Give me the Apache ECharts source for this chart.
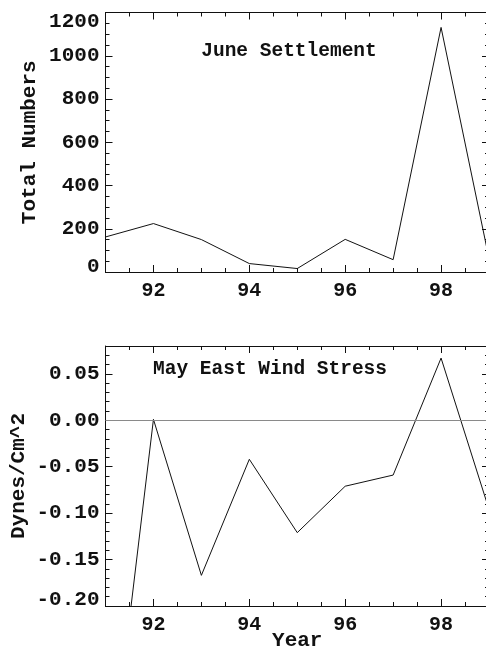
<!DOCTYPE html>
<html>
<head>
<meta charset="utf-8">
<script src="https://cdn.jsdelivr.net/npm/echarts@6/dist/echarts.min.js"></script>
<style>html,body{margin:0;padding:0;background:#fff;}#c{width:486px;height:656px;}</style>
</head>
<body>
<div id="c"></div>
<script>
// ---- data ----
const years = [91, 92, 93, 94, 95, 96, 97, 98, 99];
const settlement = [162, 224, 150, 39, 16, 151, 57, 1131, 62];
const windStress = [-0.43, 0.001, -0.167, -0.042, -0.121, -0.071, -0.059, 0.067, -0.096];
const yearTicks = [92, 94, 96, 98];
const topTitle = 'June Settlement';
const bottomTitle = 'May East Wind Stress';
const topYName = 'Total Numbers';
const bottomYName = 'Dynes/Cm^2';
const xName = 'Year';

const FONT = '"Liberation Mono", "DejaVu Sans Mono", monospace';
const INK = '#111';

const chart = echarts.init(document.getElementById('c'), null, {renderer: 'canvas'});

function pairs(vals) { return years.map((y, i) => [y, vals[i]]); }

const grids = [
  {left: 105.5, right: -3, top: 12.5, height: 259.5, outerBoundsMode: 'none', containLabel: false},
  {left: 105.5, right: -3, top: 346, height: 260, outerBoundsMode: 'none', containLabel: false}
];

function xAxesFor(g, withLabels) {
  const base = {
    type: 'value', gridIndex: g, min: 91, max: 99,
    splitLine: {show: false},
    nameMoveOverlap: false,
    axisLine: {show: true, onZero: false, lineStyle: {color: INK, width: 1}}
  };
  const list = [];
  list.push(Object.assign({}, base, {
    position: 'bottom', interval: 0.5,
    axisTick: {show: true, inside: true, length: 4, lineStyle: {color: INK}},
    axisLabel: {show: false},
    name: (withLabels ? xName : ''), nameLocation: 'middle', nameGap: 24,
    nameTextStyle: {fontFamily: FONT, fontWeight: 'bold', fontSize: 21, color: INK}
  }));
  list.push(Object.assign({}, base, {
    position: 'bottom', offset: 0,
    axisTick: {show: true, inside: true, length: 7, customValues: yearTicks, lineStyle: {color: INK}},
    axisLabel: {show: true, customValues: yearTicks, margin: 9, fontFamily: FONT, fontWeight: 'bold', fontSize: 20, color: INK}
  }));
  list.push(Object.assign({}, base, {
    position: 'top', interval: 0.5,
    axisTick: {show: true, inside: true, length: 4, lineStyle: {color: INK}},
    axisLabel: {show: false}
  }));
  list.push(Object.assign({}, base, {
    position: 'top', offset: 0,
    axisTick: {show: true, inside: true, length: 7, customValues: yearTicks, lineStyle: {color: INK}},
    axisLabel: {show: false}
  }));
  return list;
}

const richShift = {
  dn: {padding: [18, 0, 0, 0], fontFamily: FONT, fontWeight: 'bold', fontSize: 21, color: INK},
  up: {padding: [0, 0, 10, 0], fontFamily: FONT, fontWeight: 'bold', fontSize: 21, color: INK},
  up2: {padding: [0, 0, 13, 0], fontFamily: FONT, fontWeight: 'bold', fontSize: 21, color: INK}
};

function yAxesFor(g, min, max, interval, split, fmt, name, nameGap) {
  const base = {
    type: 'value', gridIndex: g, min: min, max: max, interval: interval,
    splitLine: {show: false},
    nameMoveOverlap: false,
    minorTick: {show: true, splitNumber: split, length: 4, inside: true, lineStyle: {color: INK}},
    axisTick: {show: true, inside: true, length: 7, lineStyle: {color: INK}},
    axisLine: {show: true, onZero: false, lineStyle: {color: INK, width: 1}}
  };
  return [
    Object.assign({}, base, {
      position: 'left',
      axisLabel: {show: true, margin: 6, showMaxLabel: (max % interval === 0), fontFamily: FONT, fontWeight: 'bold', fontSize: 21, color: INK, formatter: fmt, rich: richShift},
      name: name, nameLocation: 'middle', nameGap: nameGap, nameRotate: 90,
      nameTextStyle: {fontFamily: FONT, fontWeight: 'bold', fontSize: 21, color: INK}
    }),
    Object.assign({}, base, {
      position: 'right',
      axisLabel: {show: false}
    })
  ];
}

const xAxes = xAxesFor(0, false).concat(xAxesFor(1, true));
const yAxes = yAxesFor(0, 0, 1200, 200, 4, function (v) {
  if (v === 1200) return '{dn|1200}';
  if (v === 0) return '{up|0}';
  return String(v);
}, topYName, 65).concat(yAxesFor(1, -0.2, 0.08, 0.05, 5, function (v) {
  const s = v.toFixed(2);
  if (Math.abs(v + 0.2) < 1e-9) return '{up2|' + s + '}';
  return s === '-0.00' ? '0.00' : s;
}, bottomYName, 76));

const option = {
  animation: false,
  backgroundColor: '#fff',
  grid: grids,
  xAxis: xAxes,
  yAxis: yAxes,
  graphic: [
    {type: 'text', x: 289, y: 51, style: {text: topTitle, fontFamily: FONT, fontWeight: 'bold', fontSize: 19.5, fill: INK, textAlign: 'center', textVerticalAlign: 'middle'}},
    {type: 'text', x: 270, y: 369, style: {text: bottomTitle, fontFamily: FONT, fontWeight: 'bold', fontSize: 19.5, fill: INK, textAlign: 'center', textVerticalAlign: 'middle'}}
  ],
  series: [
    {
      type: 'line', xAxisIndex: 0, yAxisIndex: 0, data: pairs(settlement),
      symbol: 'none', clip: true, lineStyle: {color: INK, width: 1}
    },
    {
      type: 'line', xAxisIndex: 4, yAxisIndex: 2, data: pairs(windStress),
      symbol: 'none', clip: true, lineStyle: {color: INK, width: 1},
      markLine: {
        silent: true, symbol: 'none', label: {show: false},
        lineStyle: {color: '#8a8a8a', type: 'solid', width: 1.2},
        data: [{yAxis: 0}]
      }
    }
  ]
};
chart.setOption(option);
</script>
</body>
</html>
